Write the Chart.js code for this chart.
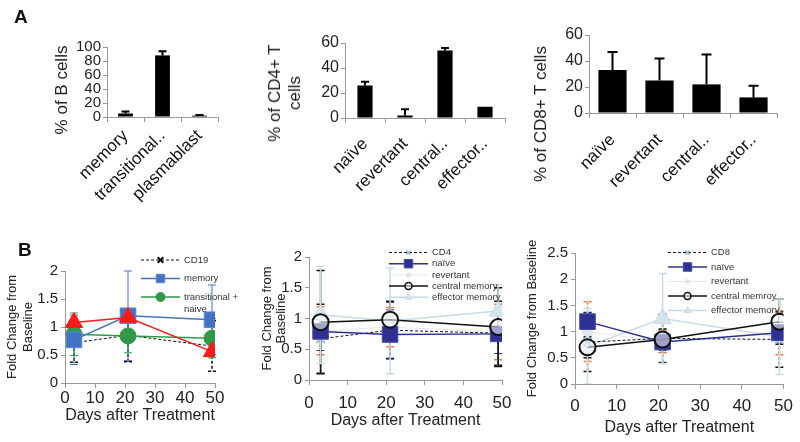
<!DOCTYPE html>
<html><head><meta charset="utf-8">
<script src="https://cdn.jsdelivr.net/npm/chart.js@4.4.1/dist/chart.umd.min.js"></script>
<style>
html,body{margin:0;padding:0;background:#fff;}
#wrap{position:relative;width:800px;height:442px;overflow:hidden;background:#fff;font-family:"Liberation Sans",Arial,sans-serif;}
canvas.panel{position:absolute;}
.lab{position:absolute;font-weight:bold;font-size:19px;color:#111;line-height:1;}
.ytl{position:absolute;white-space:nowrap;font-size:17px;line-height:20px;color:#222;text-align:center;transform:translate(-50%,-50%) rotate(-90deg);}
</style></head><body>
<div id="wrap">
<canvas id="a1" class="panel" width="240" height="215" style="left:0px;top:0px"></canvas>
<canvas id="a2" class="panel" width="290" height="215" style="left:245px;top:0px"></canvas>
<canvas id="a3" class="panel" width="290" height="215" style="left:510px;top:0px"></canvas>
<canvas id="b1" class="panel" width="250" height="217" style="left:0px;top:225px"></canvas>
<canvas id="b2" class="panel" width="270" height="217" style="left:250px;top:225px"></canvas>
<canvas id="b3" class="panel" width="275" height="217" style="left:525px;top:225px"></canvas>
<div class="ytl" style="left:62px;top:90px">% of B cells</div>
<div class="ytl" style="left:285px;top:93px">% of CD4+ T<br>cells</div>
<div class="ytl" style="left:541px;top:114px">% of CD8+ T cells</div>
<div class="lab" style="left:14px;top:7px">A</div>
<div class="lab" style="left:18px;top:240px">B</div>
</div>
<script>
// ---------- data ----------
const bCellCats = ['memory', 'transitional..', 'plasmablast'];
const bCellPct = [5, 88, 2];
const bCellErr = [3, 6, 1];

const cd4Cats = ['naïve', 'revertant', 'central..', 'effector..'];
const cd4Pct = [26, 2, 54, 9];
const cd4Err = [3, 5, 2, 0];

const cd8Cats = ['naïve', 'revertant', 'central..', 'effector..'];
const cd8Pct = [33, 25, 22, 12];
const cd8Err = [14, 17, 23, 9];

const days = [3, 21, 49];

const cd19Fold = [0.72, 0.85, 0.66];
const cd19Err = [0.35, 0.47, 0.45];
const bMemFold = [0.77, 1.2, 1.13];
const bMemErr = [0.44, 0.8, 0.62];
const bTransFold = [0.87, 0.84, 0.8];
const bTransErr = [0.38, 0.3, 0.35];
const bPlasmaFold = [1.08, 1.17, 0.56];

const cd4Fold = [0.67, 0.81, 0.76];
const cd4FoldErr = [0.56, 0.46, 0.52];
const cd4NaiveFold = [0.79, 0.74, 0.75];
const cd4NaiveErr = [0.31, 0.4, 0.32];
const cd4RevFold = [0.8, 0.86, 0.78];
const cd4RevErr = [0.39, 0.32, 0.45];
const cd4CmFold = [0.94, 0.98, 0.86];
const cd4CmErr = [0.84, 0.3, 0.64];
const cd4EmFold = [1.06, 0.96, 1.12];
const cd4EmErr = [0.79, 0.86, 0.43];

const cd8Fold = [0.8, 0.87, 0.85];
const cd8FoldErr = [0.56, 0.46, 0.53];
const cd8NaiveFold = [1.19, 0.8, 0.98];
const cd8NaiveErr = [0.18, 0.2, 0.2];
const cd8RevFold = [1.0, 0.81, 0.98];
const cd8RevErr = [0.57, 0.21, 0.42];
const cd8CmFold = [0.7, 0.85, 1.19];
const cd8CmErr = [0.2, 0.2, 0.43];
const cd8EmFold = [0.72, 1.25, 0.9];
const cd8EmErr = [0.72, 0.86, 0.72];

// ---------- helpers ----------
const FONT = '"Liberation Sans", Arial, sans-serif';
Chart.defaults.font.family = FONT;

function drawErr(chart, o) {
  const ctx = chart.ctx, a = chart.chartArea;
  ctx.save();
  ctx.beginPath();
  ctx.rect(a.left - 12, a.top - 20, a.right - a.left + 24, a.bottom - a.top + 20);
  ctx.clip();
  chart.data.datasets.forEach((ds, i) => {
    if (!ds.errors) return;
    const meta = chart.getDatasetMeta(i);
    const ys = chart.scales[meta.yAxisID];
    meta.data.forEach((el, j) => {
      const e = ds.errors[j];
      if (!e) return;
      const raw = ds.data[j];
      const v = (typeof raw === 'object') ? raw.y : raw;
      const x = el.x;
      const yT = ys.getPixelForValue(v + e);
      const yB = o.upOnly ? ys.getPixelForValue(v) : ys.getPixelForValue(v - e);
      ctx.strokeStyle = ds.errColor || '#000';
      ctx.lineWidth = ds.errWidth || 1.5;
      ctx.setLineDash(ds.errDash || []);
      const c = o.cap;
      ctx.beginPath();
      ctx.moveTo(x, yT); ctx.lineTo(x, yB);
      ctx.moveTo(x - c, yT); ctx.lineTo(x + c, yT);
      if (!o.upOnly) { ctx.moveTo(x - c, yB); ctx.lineTo(x + c, yB); }
      ctx.stroke();
    });
  });
  ctx.restore();
}
const errorBars = {
  id: 'errorBars',
  beforeDatasetsDraw(chart, args, o) { if (o && o.layer === 'before') drawErr(chart, o); },
  afterDatasetsDraw(chart, args, o) { if (o && o.layer === 'after') drawErr(chart, o); }
};

function markerPath(ctx, style, x, y, r) {
  ctx.beginPath();
  if (style === 'rect') {
    const s = r * Math.SQRT1_2; ctx.rect(x - s, y - s, 2 * s, 2 * s);
  } else if (style === 'triangle') {
    ctx.moveTo(x, y - r); ctx.lineTo(x + r * 0.866, y + r * 0.5); ctx.lineTo(x - r * 0.866, y + r * 0.5); ctx.closePath();
  } else if (style === 'crossRot') {
    const s = r * Math.SQRT1_2;
    ctx.moveTo(x - s, y - s); ctx.lineTo(x + s, y + s); ctx.moveTo(x - s, y + s); ctx.lineTo(x + s, y - s);
  } else {
    ctx.arc(x, y, r, 0, Math.PI * 2);
  }
}
const lineLegend = {
  id: 'lineLegend',
  afterDraw(chart, args, o) {
    if (!o || !o.display) return;
    const ctx = chart.ctx;
    ctx.save();
    ctx.font = o.font; ctx.textBaseline = 'middle'; ctx.textAlign = 'left';
    let y = o.y;
    chart.data.datasets.forEach(ds => {
      if (!ds.label) return;
      ctx.strokeStyle = ds.borderColor; ctx.lineWidth = ds.borderWidth || 1;
      ctx.setLineDash(ds.borderDash || []);
      ctx.beginPath(); ctx.moveTo(o.x, y); ctx.lineTo(o.x + o.lineLen, y); ctx.stroke();
      ctx.setLineDash([]);
      markerPath(ctx, ds.pointStyle, o.x + o.lineLen / 2, y, ds.legendRadius || 4);
      if (ds.pointStyle !== 'crossRot') { ctx.fillStyle = ds.pointBackgroundColor; ctx.fill(); }
      ctx.strokeStyle = ds.pointBorderColor; ctx.lineWidth = ds.legendBorder || 1; ctx.stroke();
      ctx.fillStyle = o.color;
      ds.label.split('\n').forEach((t, k) => ctx.fillText(t, o.x + o.lineLen + o.gap, y + k * o.subRowH));
      y += o.rowH;
    });
    ctx.restore();
  }
};
Chart.register(errorBars, lineLegend);

function barChart(id, cats, vals, errs, o) {
  return new Chart(document.getElementById(id), {
    type: 'bar',
    data: { labels: cats, datasets: [{ data: vals, errors: errs, backgroundColor: '#000', borderWidth: 0,
      barPercentage: o.barPct, categoryPercentage: 1, errColor: '#000', errWidth: 2 }] },
    options: {
      responsive: false, animation: false, devicePixelRatio: 1,
      layout: { padding: { top: o.top, right: o.right, left: 0, bottom: 0 } },
      plugins: { legend: { display: false }, tooltip: { enabled: false }, errorBars: { upOnly: true, cap: o.cap, layer: 'after' } },
      scales: {
        x: { ticks: { color: '#111', font: { size: 17 }, minRotation: 45, maxRotation: 45, padding: o.labPad, autoSkip: false },
             grid: { drawOnChartArea: false, tickLength: 5, color: '#999', offset: true }, border: { color: '#999' },
             afterFit(s) { s.height = o.xH; } },
        y: { min: 0, max: o.yMax, ticks: { stepSize: 20, autoSkip: false, color: '#222', font: { size: o.tickSize }, padding: 2 },
             grid: { drawOnChartArea: false, tickLength: 4, color: '#999' }, border: { color: '#999' },
             afterFit(s) { s.width = o.yW; } }
      }
    }
  });
}

barChart('a1', bCellCats, bCellPct, bCellErr, { barPct: 0.4, top: 47, right: 22, xH: 98, yW: 107, yMax: 100, cap: 4, labPad: 4, tickSize: 15 });
barChart('a2', cd4Cats, cd4Pct, cd4Err, { barPct: 0.38, top: 43, right: 30, xH: 97, yW: 100, yMax: 60, cap: 4, labPad: 11, tickSize: 16 });
barChart('a3', cd8Cats, cd8Pct, cd8Err, { barPct: 0.6, top: 35, right: 23, xH: 102, yW: 79, yMax: 60, cap: 5, labPad: 12, tickSize: 16 });

function pts(vals) { return days.map((d, i) => ({ x: d, y: vals[i] })); }

function lineChart(id, datasets, o) {
  return new Chart(document.getElementById(id), {
    type: 'line',
    data: { datasets },
    options: {
      responsive: false, animation: false, devicePixelRatio: 1,
      layout: { padding: { top: o.top, right: o.right, left: 0, bottom: 0 } },
      plugins: { legend: { display: false }, tooltip: { enabled: false },
        errorBars: { upOnly: false, cap: 4, layer: 'before' },
        lineLegend: Object.assign({ display: true, font: '9.5px ' + FONT, color: '#333', gap: 4 }, o.legend) },
      scales: {
        x: { type: 'linear', min: 0, max: 50, ticks: { stepSize: 10, color: '#222', font: { size: 17 }, padding: o.xTickPad },
             grid: { drawOnChartArea: false, tickLength: 5, color: '#999' }, border: { color: '#999' },
             title: { display: true, text: 'Days after Treatment', color: '#222', font: { size: 16 }, padding: { top: 0, bottom: o.xTitlePad } },
             afterFit(s) { s.height = o.xH; } },
        y: { min: 0, max: o.yMax, ticks: { stepSize: 0.5, autoSkip: false, color: '#222', font: { size: 15 }, padding: 3,
               callback: v => String(Number(v.toFixed(2))) },
             grid: { drawOnChartArea: false, tickLength: 4, color: '#999' }, border: { color: '#999' },
             title: { display: true, text: o.yTitle, color: '#222', font: { size: 13, lineHeight: o.yTitleLH }, padding: { top: o.yTitlePad, bottom: 0 } },
             afterFit(s) { s.width = o.yW; } }
      }
    }
  });
}

lineChart('b1', [
  { label: 'CD19', data: pts(cd19Fold), errors: cd19Err, order: 3, borderColor: '#111', borderWidth: 1, borderDash: [3, 2],
    pointStyle: 'crossRot', pointRadius: 6, pointBorderWidth: 2, pointBorderColor: '#111', pointBackgroundColor: '#111',
    errColor: '#111', errDash: [3, 2], errWidth: 1.5, legendRadius: 4, legendBorder: 2 },
  { label: 'memory', data: pts(bMemFold), errors: bMemErr, order: 1, borderColor: '#4472C4', borderWidth: 1.5,
    pointStyle: 'rect', pointRadius: 11, pointBorderWidth: 1, pointBorderColor: '#5B84CC', pointBackgroundColor: '#4472C4',
    errColor: '#4472C4', errWidth: 1, legendRadius: 6 },
  { label: 'transitional +\nnaive', data: pts(bTransFold), errors: bTransErr, order: 2, borderColor: '#2E9A48', borderWidth: 1.5,
    pointStyle: 'circle', pointRadius: 8, pointBorderWidth: 1, pointBorderColor: '#2E9A48', pointBackgroundColor: '#2E9A48',
    errColor: '#2E9A48', errWidth: 1, legendRadius: 4.5 },
  { label: '', data: pts(bPlasmaFold), order: 0, borderColor: '#FF1A1A', borderWidth: 1.5,
    pointStyle: 'triangle', pointRadius: 10, pointBorderWidth: 1, pointBorderColor: '#FF1A1A', pointBackgroundColor: '#FF1A1A' }
], { top: 46, right: 35, xH: 59, yW: 65, yMax: 2, xTickPad: 0, xTitlePad: 17, yTitle: ['Fold Change from', 'Baseline'], yTitleLH: 1.2, yTitlePad: 5,
     legend: { x: 141, y: 35, lineLen: 39, rowH: 18.5, subRowH: 12 } });

function tcellSets(totalLabel, tot, totE, nai, naiE, rev, revE, cm, cmE, em, emE, cmLabel) {
  return [
    { label: totalLabel, data: pts(tot), errors: totE, order: 2, borderColor: '#111', borderWidth: 1, borderDash: [3, 2],
      pointStyle: 'crossRot', pointRadius: 6, pointBorderWidth: 2, pointBorderColor: '#9CC3D8', pointBackgroundColor: '#9CC3D8',
      errColor: '#111', errDash: [3, 2], errWidth: 1.5, legendRadius: 3, legendBorder: 1.5 },
    { label: 'naïve', data: pts(nai), errors: naiE, order: 1, borderColor: '#2E3192', borderWidth: 1.5,
      pointStyle: 'rect', pointRadius: 11, pointBorderWidth: 1, pointBorderColor: '#3E4AA0', pointBackgroundColor: '#2E3192',
      errColor: '#2E3192', errWidth: 1, legendRadius: 6 },
    { label: 'revertant', data: pts(rev), errors: revE, order: 3, borderColor: '#E4E8EE', borderWidth: 1,
      pointStyle: 'circle', pointRadius: 5, pointBorderWidth: 1, pointBorderColor: '#DCE2EA', pointBackgroundColor: '#E2E7EE',
      errColor: '#F07A3A', errDash: [3, 2], errWidth: 1.5, legendRadius: 2 },
    { label: cmLabel, data: pts(cm), errors: cmE, order: 0, borderColor: '#111', borderWidth: 1.5,
      pointStyle: 'circle', pointRadius: 8, pointBorderWidth: 2, pointBorderColor: '#111', pointBackgroundColor: 'rgba(255,255,255,0.55)',
      errColor: '#111', errWidth: 1.5, legendRadius: 3.5, legendBorder: 1.5 },
    { label: 'effector memory', data: pts(em), errors: emE, order: 4, borderColor: '#C6DCE5', borderWidth: 1.5,
      pointStyle: 'triangle', pointRadius: 10, pointBorderWidth: 1, pointBorderColor: '#C6DCE5', pointBackgroundColor: '#D3E4EB',
      errColor: '#C6DCE5', errWidth: 1.5, legendRadius: 4 }
  ];
}

lineChart('b2', tcellSets('CD4', cd4Fold, cd4FoldErr, cd4NaiveFold, cd4NaiveErr, cd4RevFold, cd4RevErr, cd4CmFold, cd4CmErr, cd4EmFold, cd4EmErr, 'central memory'),
  { top: 32, right: 18, xH: 62, yW: 59, yMax: 2, xTickPad: 8, xTitlePad: 12, yTitle: ['Fold Change from', 'Baseline'], yTitleLH: 1.05, yTitlePad: 11,
    legend: { x: 139, y: 27.5, lineLen: 39, rowH: 11.2, subRowH: 11 } });

lineChart('b3', tcellSets('CD8', cd8Fold, cd8FoldErr, cd8NaiveFold, cd8NaiveErr, cd8RevFold, cd8RevErr, cd8CmFold, cd8CmErr, cd8EmFold, cd8EmErr, 'central memroy'),
  { top: 28, right: 14, xH: 58, yW: 50, yMax: 2.5, xTickPad: 7, xTitlePad: 5, yTitle: 'Fold Change from Baseline', yTitleLH: 1.2, yTitlePad: 0,
    legend: { x: 143, y: 27.5, lineLen: 39, rowH: 14.5, subRowH: 11 } });
</script>
</body></html>
